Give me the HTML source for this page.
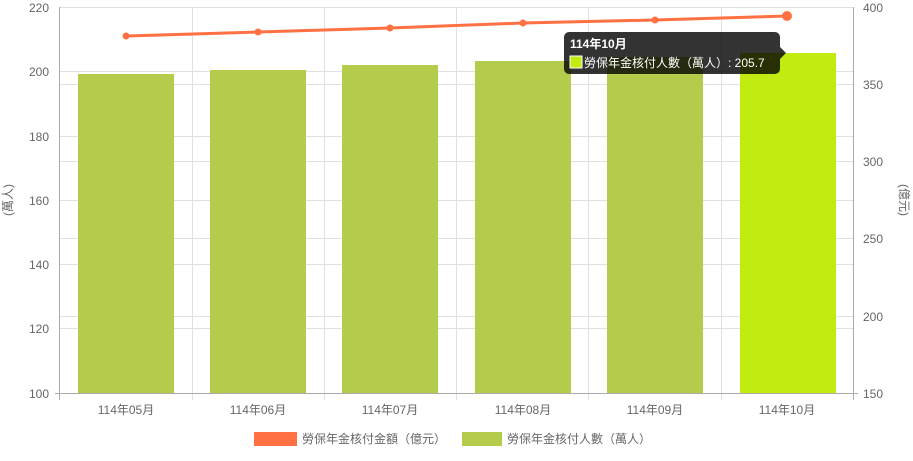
<!DOCTYPE html><html><head><meta charset="utf-8"><style>body{margin:0;background:#fff}svg{font-family:"Liberation Sans","Noto Sans CJK TC",sans-serif}</style></head><body>
<svg width="913" height="456" xmlns="http://www.w3.org/2000/svg">
<g stroke="#e0e0e0" stroke-width="1">
<line x1="60" x2="853" y1="7.5" y2="7.5"/><line x1="60" x2="853" y1="71.5" y2="71.5"/><line x1="60" x2="853" y1="136.5" y2="136.5"/><line x1="60" x2="853" y1="200.5" y2="200.5"/><line x1="60" x2="853" y1="264.5" y2="264.5"/><line x1="60" x2="853" y1="328.5" y2="328.5"/>
<line x1="60" x2="853" y1="84.5" y2="84.5"/><line x1="60" x2="853" y1="161.5" y2="161.5"/><line x1="60" x2="853" y1="238.5" y2="238.5"/><line x1="60" x2="853" y1="316.5" y2="316.5"/>
<line x1="192.5" x2="192.5" y1="7" y2="400"/><line x1="324.5" x2="324.5" y1="7" y2="400"/><line x1="456.5" x2="456.5" y1="7" y2="400"/><line x1="588.5" x2="588.5" y1="7" y2="400"/><line x1="721.5" x2="721.5" y1="7" y2="400"/>
</g>
<line x1="59.5" x2="59.5" y1="7" y2="400" stroke="#aaa"/><line x1="853.5" x2="853.5" y1="7" y2="400" stroke="#aaa"/><line x1="55" x2="858" y1="393.5" y2="393.5" stroke="#aaa"/>
<g fill="#b4cc4c">
<rect x="78" y="74" width="96" height="319"/><rect x="210" y="70" width="96" height="323"/><rect x="342" y="65" width="96" height="328"/><rect x="475" y="61" width="96" height="332"/><rect x="607" y="57" width="96" height="336"/></g>
<rect x="740" y="53" width="96" height="340" fill="#c2eb12"/>
<polyline points="126,36 258,32 390,28 523,23 655,20 787,16" fill="none" stroke="#ff7043" stroke-width="3"/>
<g fill="#ff7043"><circle cx="126" cy="36" r="3.5"/><circle cx="258" cy="32" r="3.5"/><circle cx="390" cy="28" r="3.5"/><circle cx="523" cy="23" r="3.5"/><circle cx="655" cy="20" r="3.5"/><circle cx="787" cy="16" r="5"/></g>
<g font-size="12" fill="#666" text-anchor="end">
<text x="49" y="12">220</text><text x="49" y="76">200</text><text x="49" y="141">180</text><text x="49" y="205">160</text><text x="49" y="269">140</text><text x="49" y="333">120</text><text x="49" y="398">100</text></g>
<g font-size="12" fill="#666">
<text x="863" y="12">400</text><text x="863" y="89">350</text><text x="863" y="166">300</text><text x="863" y="243">250</text><text x="863" y="321">200</text><text x="863" y="398">150</text></g>
<g font-size="12" fill="#666" text-anchor="middle">
<text x="126" y="414">114年05月</text><text x="258" y="414">114年06月</text><text x="390" y="414">114年07月</text><text x="523" y="414">114年08月</text><text x="655" y="414">114年09月</text><text x="787" y="414">114年10月</text></g>
<text transform="translate(12,200) rotate(-90)" font-size="12" fill="#666" text-anchor="middle">(萬人)</text>
<text transform="translate(900,200) rotate(90)" font-size="12" fill="#666" text-anchor="middle">(億元)</text>
<rect x="564" y="32" width="216" height="42" rx="5" fill="rgba(0,0,0,0.8)"/>
<polygon points="780,47 786,53 780,59" fill="rgba(0,0,0,0.8)"/>
<text x="570" y="48" font-size="12" font-weight="bold" fill="#fff">114年10月</text>
<rect x="570" y="56" width="12" height="12" fill="#c2eb12" stroke="#fff" stroke-width="1"/>
<text x="584" y="67" font-size="12" fill="#fff">勞保年金核付人數（萬人）: 205.7</text>
<rect x="254" y="432" width="43" height="14" fill="#ff7043"/>
<text x="302" y="443" font-size="12" fill="#666">勞保年金核付金額（億元）</text>
<rect x="462" y="432" width="40" height="14" fill="#b4cc4c"/>
<text x="507" y="443" font-size="12" fill="#666">勞保年金核付人數（萬人）</text>
</svg></body></html>
